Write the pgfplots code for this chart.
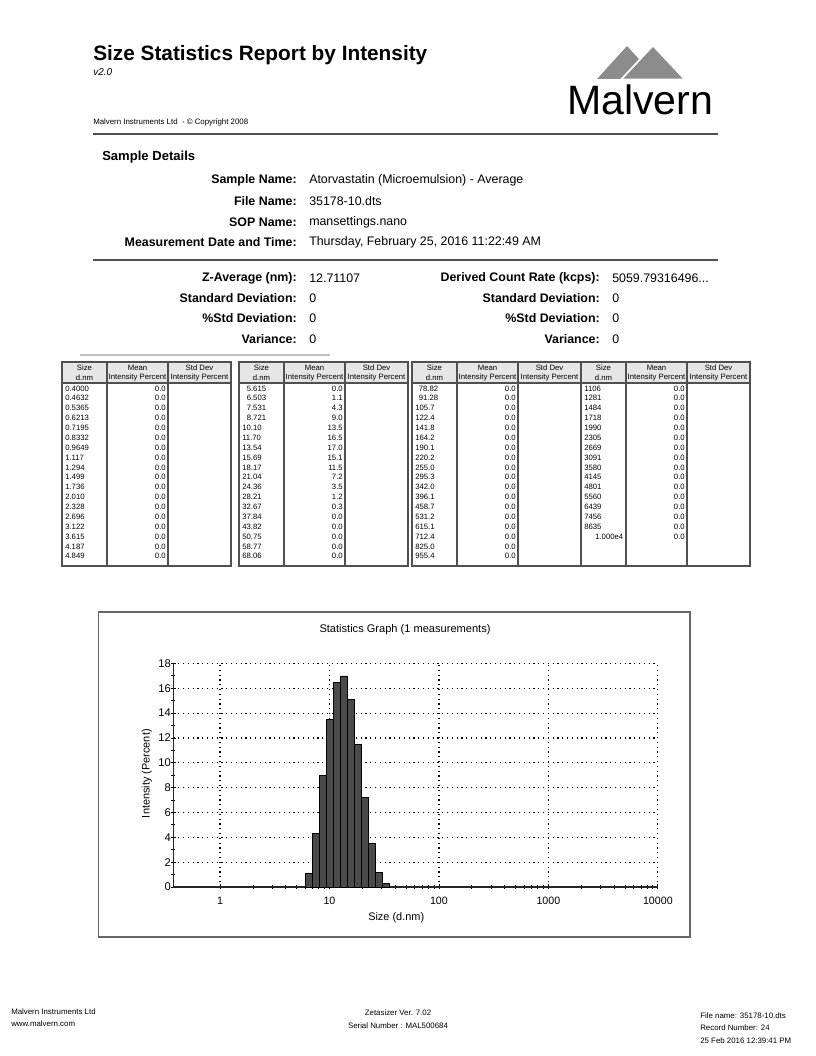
\documentclass[border=0pt]{standalone}
\usepackage{pgfplots}
\pgfplotsset{compat=1.18}
\usepackage{fontspec}
\setmainfont{Liberation Sans}
\definecolor{barfill}{HTML}{4A4A4A}
\definecolor{logogray}{HTML}{8C8C8C}
\definecolor{hdrgray}{HTML}{E6E6E6}
\definecolor{rulegray}{HTML}{505050}
\newcommand\fs[1]{\fontsize{#1}{#1}\selectfont}
\newcommand\dcr{5059.79316496...}
\newcommand\tablebox[2]{%
  \fill[hdrgray] (#1,362) rectangle (#1+169,383);
  \draw[rulegray, line width=0.8] (#1,362) rectangle (#1+169,566);
  \draw[rulegray, line width=0.8] (#1,383) -- (#1+169,383);
  \draw[rulegray, line width=0.8] (#1+45,362) -- (#1+45,566);
  \draw[rulegray, line width=0.8] (#1+106,362) -- (#1+106,566);
  \node[anchor=center, inner sep=0] at (#1+22.5,367.5) {\fs{5.8}Size};
  \node[anchor=center, inner sep=0] at (#1+22.5,377.5) {\fs{5.8}d.nm};
  \node[anchor=center, inner sep=0] at (#1+75.5,367.5) {\fs{5.8}Mean};
  \node[anchor=center, inner sep=0] at (#1+75.5,377.5) {\fs{5.8}Intensity Percent};
  \node[anchor=center, inner sep=0] at (#1+137.5,367.5) {\fs{5.8}Std Dev};
  \node[anchor=center, inner sep=0] at (#1+137.5,377.5) {\fs{5.8}Intensity Percent};
  \foreach \s/\m/\d [count=\i from 0] in {#2} {
    \node[anchor=base west, inner sep=0] at (#1+3+\d, 391+\i*9.88) {\fs{5.8}\s};
    \node[anchor=base east, inner sep=0] at (#1+104, 391+\i*9.88) {\fs{5.8}\m};
  }
}
\begin{document}
\begin{tikzpicture}
\path[use as bounding box, fill=white] (0,0) rectangle (612pt,-792pt);
\begin{scope}[x=0.75pt,y=-0.75pt]
% ---------- header
\node[anchor=base west, inner sep=0] at (93,61) {\fs{15.6}\bfseries Size Statistics Report by Intensity};
\node[anchor=base west, inner sep=0] at (93,75) {\fs{7.5}\itshape v2.0};
\node[anchor=base west, inner sep=0] at (93,124.5) {\fs{5.9}Malvern Instruments Ltd\ \ - \textcopyright\ Copyright 2008};
\fill[logogray] (597,79) -- (627,46) -- (657,79) -- cycle;
\filldraw[fill=logogray, draw=white, line width=1.3] (621,79.6) -- (653,45.5) -- (685,79.6) -- cycle;
\node[anchor=base west, inner sep=0] at (567,114.5) {\fs{30.8}Malvern};
\draw[rulegray, line width=1.3] (93,134) -- (718,134);
% ---------- sample details
\node[anchor=west, inner sep=0] at (102,157) {\fs{9.8}\bfseries Sample Details};
\foreach \lab/\val/\yy in {Sample Name:/Atorvastatin (Microemulsion) - Average/180,
  File Name:/35178-10.dts/201, SOP Name:/mansettings.nano/222,
  Measurement Date and Time:/{Thursday, February 25, 2016 11:22:49 AM}/242} {
  \node[anchor=east, inner sep=0] at (297,\yy) {\fs{9.3}\bfseries\lab};
  \node[anchor=west, inner sep=0] at (309,\yy) {\fs{9.3}\val};
}
\draw[rulegray, line width=1.3] (93,260) -- (718,260);
\foreach \lab/\val/\yy in {Z-Average (nm):/12.71107/278, Standard Deviation:/0/298,
  \%Std Deviation:/0/318, Variance:/0/339} {
  \node[anchor=east, inner sep=0] at (297,\yy) {\fs{9.3}\bfseries\lab};
  \node[anchor=west, inner sep=0] at (309,\yy) {\fs{9.3}\val};
}
\foreach \lab/\val/\yy in {Derived Count Rate (kcps):/\dcr/278, Standard Deviation:/0/298,
  \%Std Deviation:/0/318, Variance:/0/339} {
  \node[anchor=east, inner sep=0] at (600,\yy) {\fs{9.3}\bfseries\lab};
  \node[anchor=west, inner sep=0] at (612,\yy) {\fs{9.3}\val};
}
\draw[black!25, line width=1] (80,355) -- (330,355);
% ---------- tables
\tablebox{62}{0.4000/0.0/0, 0.4632/0.0/0, 0.5365/0.0/0, 0.6213/0.0/0, 0.7195/0.0/0,
  0.8332/0.0/0, 0.9649/0.0/0, 1.117/0.0/0, 1.294/0.0/0, 1.499/0.0/0, 1.736/0.0/0,
  2.010/0.0/0, 2.328/0.0/0, 2.696/0.0/0, 3.122/0.0/0, 3.615/0.0/0, 4.187/0.0/0, 4.849/0.0/0}
\tablebox{239}{5.615/0.0/4.5, 6.503/1.1/4.5, 7.531/4.3/4.5, 8.721/9.0/4.5, 10.10/13.5/0,
  11.70/16.5/0, 13.54/17.0/0, 15.69/15.1/0, 18.17/11.5/0, 21.04/7.2/0, 24.36/3.5/0,
  28.21/1.2/0, 32.67/0.3/0, 37.84/0.0/0, 43.82/0.0/0, 50.75/0.0/0, 58.77/0.0/0, 68.06/0.0/0}
\tablebox{412}{78.82/0.0/3.5, 91.28/0.0/3.5, 105.7/0.0/0, 122.4/0.0/0, 141.8/0.0/0,
  164.2/0.0/0, 190.1/0.0/0, 220.2/0.0/0, 255.0/0.0/0, 295.3/0.0/0, 342.0/0.0/0,
  396.1/0.0/0, 458.7/0.0/0, 531.2/0.0/0, 615.1/0.0/0, 712.4/0.0/0, 825.0/0.0/0, 955.4/0.0/0}
\tablebox{581}{1106/0.0/0, 1281/0.0/0, 1484/0.0/0, 1718/0.0/0, 1990/0.0/0, 2305/0.0/0,
  2669/0.0/0, 3091/0.0/0, 3580/0.0/0, 4145/0.0/0, 4801/0.0/0, 5560/0.0/0, 6439/0.0/0,
  7456/0.0/0, 8635/0.0/0, 1.000e4/0.0/11}
% ---------- chart frame
\draw[black!60, line width=1.3] (98.5,612) rectangle (690,937);
\node[anchor=center, inner sep=0] at (405,630) {\fs{8.3}Statistics Graph (1 measurements)};
% ---------- footer
\node[anchor=west, inner sep=0] at (11,1012) {\fs{5.9}Malvern Instruments Ltd};
\node[anchor=west, inner sep=0] at (11,1024) {\fs{5.9}www.malvern.com};
\node[anchor=center, inner sep=0] at (398,1013) {\fs{5.9}Zetasizer Ver. 7.02};
\node[anchor=center, inner sep=0] at (398,1026) {\fs{5.9}Serial Number : MAL500684};
\node[anchor=west, inner sep=0] at (700,1016) {\fs{5.9}File name: 35178-10.dts};
\node[anchor=west, inner sep=0] at (700,1028) {\fs{5.9}Record Number: 24};
\node[anchor=west, inner sep=0] at (700,1041) {\fs{5.9}25 Feb 2016 12:39:41 PM};
\end{scope}
% ---------- statistics graph
\begin{axis}[
  at={(130.0pt,-665.2pt)}, anchor=south west,
  scale only axis, width=363.4pt, height=167.6pt,
  xmode=log, xmin=0.375, xmax=10000, ymin=0, ymax=18,
  axis lines=left, axis line style={-, line width=0.9pt, black!85},
  grid=major, major grid style={black, line width=0.9pt, dash pattern=on 0.9pt off 2.7pt},
  xtick={1,10,100,1000,10000}, xticklabels={1,10,100,1000,10000},
  ytick={0,2,...,18}, minor ytick={1,3,...,17},
  tick align=center, major tick length=3.8pt, minor tick length=3.2pt,
  every tick/.style={black, line width=0.6pt},
  /pgf/number format/assume math mode=true,
  tick label style={font=\fs{8}},
  yticklabel style={font=\fs{8.4}, xshift=3.6pt},
  xticklabel style={yshift=-2.5pt},
  xlabel={Size (d.nm)}, ylabel={Intensity (Percent)},
  label style={font=\fs{8.2}},
  xlabel style={at={(axis description cs:0.46,-0.139)}, anchor=center},
  ylabel style={at={(axis description cs:-0.055,0.507)}, anchor=center},
  clip=false,
]
\addplot[ybar interval, fill=barfill, draw=black, line width=0.5pt] coordinates {
  (6.043,1.1) (6.998,4.3) (8.105,9.0) (9.386,13.5) (10.87,16.5) (12.59,17.0)
  (14.57,15.1) (16.88,11.5) (19.55,7.2) (22.64,3.5) (26.22,1.2) (30.36,0.3) (35.16,0)};
\end{axis}
\end{tikzpicture}
\end{document}
